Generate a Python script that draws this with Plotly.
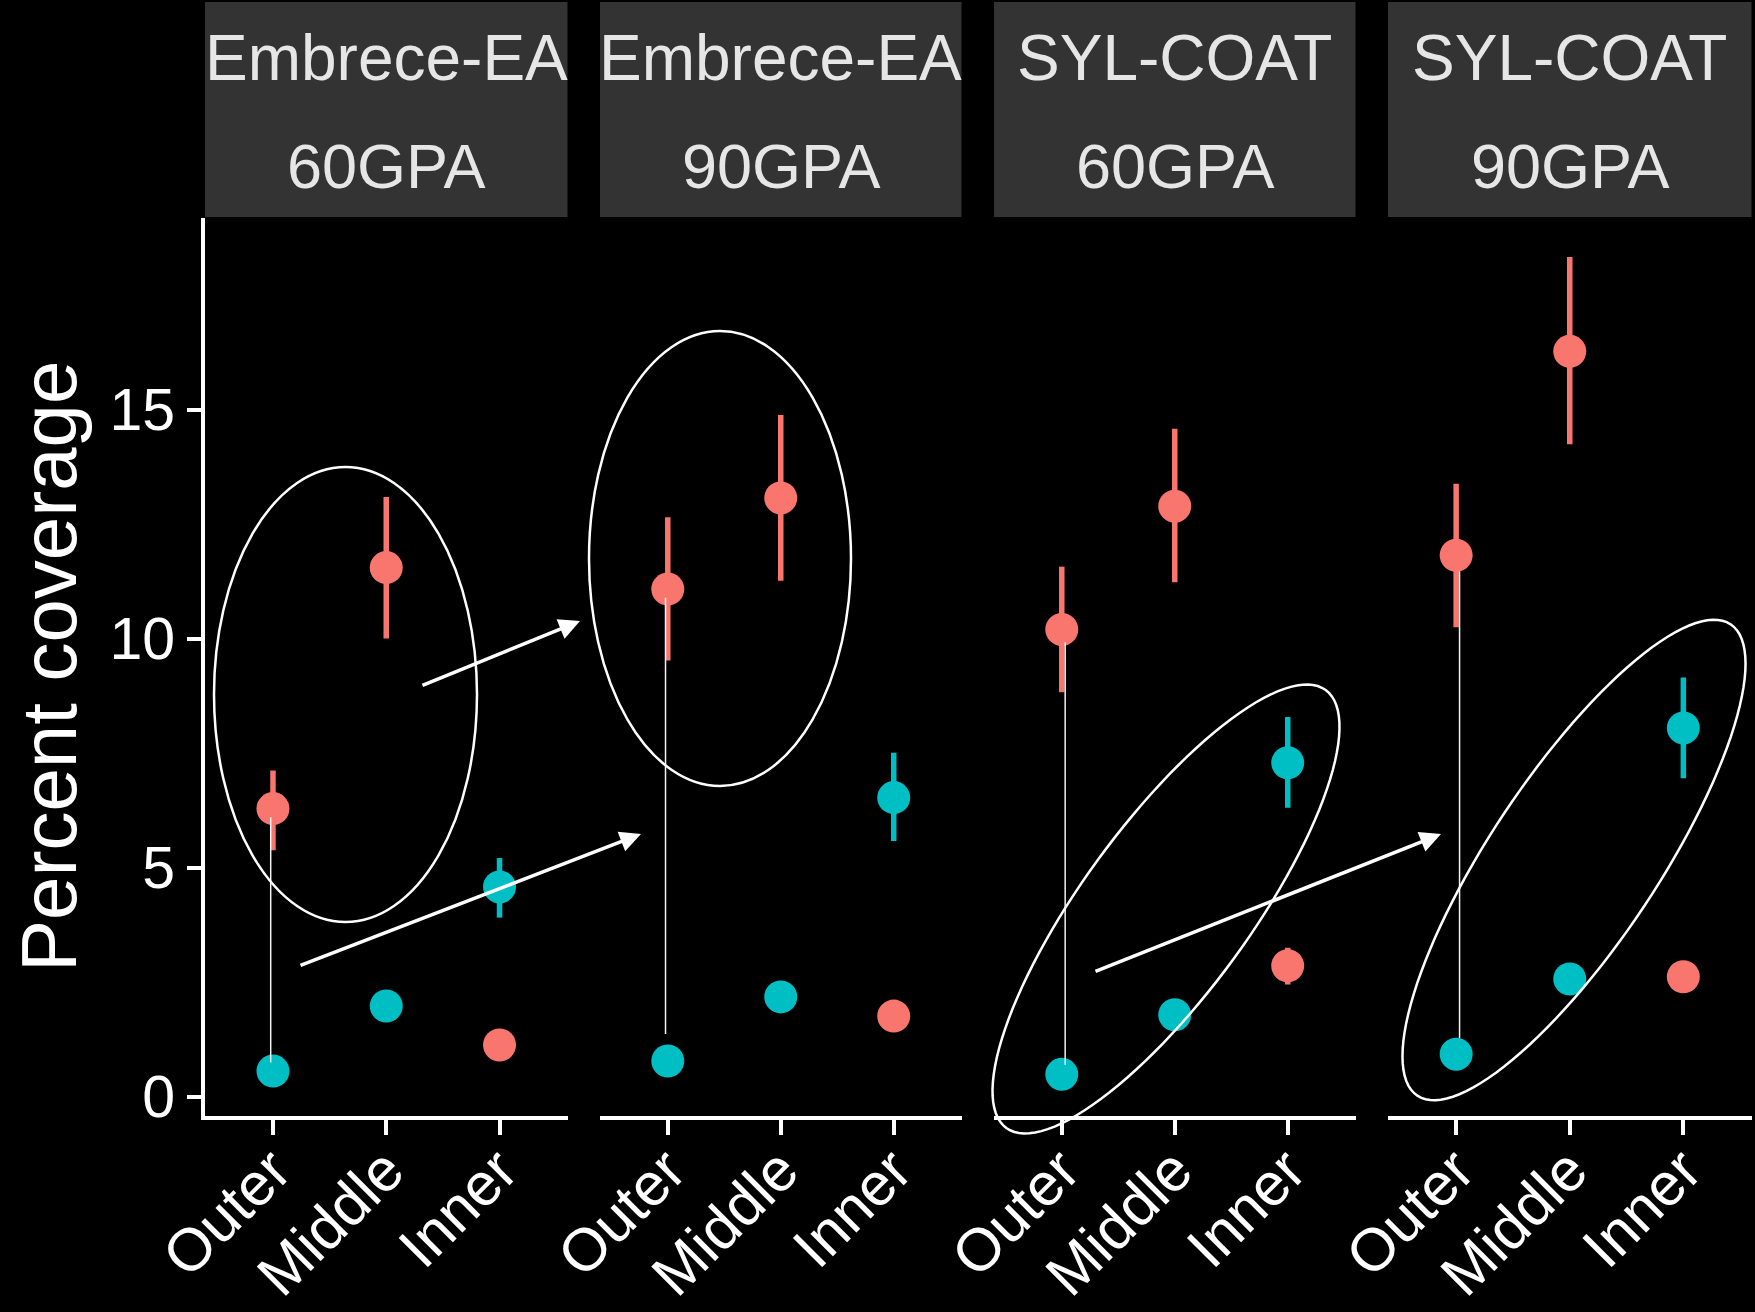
import math
import plotly.graph_objects as go

# ---------------- data ----------------
positions = ["Outer", "Middle", "Inner"]
strip_top = ["Embrece-EA", "Embrece-EA", "SYL-COAT", "SYL-COAT"]
strip_bottom = ["60GPA", "90GPA", "60GPA", "90GPA"]

red_mean = [[6.29, 11.55, 1.13], [11.08, 13.07, 1.76], [10.20, 12.89, 2.86], [11.82, 16.27, 2.62]]
red_lo = [[5.38, 10.00, 0.95], [9.52, 11.26, 1.60], [8.83, 11.23, 2.45], [10.25, 14.24, 2.45]]
red_hi = [[7.12, 13.09, 1.30], [12.65, 14.88, 1.90], [11.57, 14.58, 3.25], [13.38, 18.33, 2.80]]

cyan_mean = [[0.56, 1.98, 4.58], [0.78, 2.18, 6.53], [0.49, 1.79, 7.29], [0.93, 2.57, 8.05]]
cyan_lo = [[0.45, 1.85, 3.91], [0.65, 2.05, 5.58], [0.38, 1.65, 6.31], [0.80, 2.45, 6.95]]
cyan_hi = [[0.70, 2.10, 5.21], [0.90, 2.30, 7.51], [0.60, 1.95, 8.29], [1.05, 2.70, 9.15]]

# thin connector lines (Outer position), y from/to
connector_lo = [0.75, 1.37, 0.70, 1.28]
connector_hi = [6.10, 10.89, 9.92, 11.47]
connector_dx = [-0.02, -0.02, 0.03, 0.03]

y_ticks = [0, 5, 10, 15]
y_title = "Percent coverage"

# ---------------- style / layout ----------------
W, H = 1755, 1312
RED, CYAN = "#F8766D", "#00BFC4"
FONT = "Liberation Sans, Arial, sans-serif"
panel_px = [(205, 567.5), (600, 961.5), (994, 1355.5), (1388, 1751.5)]
plot_top_px, plot_bottom_px = 218, 1116
strip_top_px, strip_bottom_px = 2, 217


def px_x(x):
    return x / W


def px_y(y):
    return 1 - y / H


fig = go.Figure()

for i in range(4):
    suffix = "" if i == 0 else str(i + 1)
    for mean, lo, hi, color in [(cyan_mean[i], cyan_lo[i], cyan_hi[i], CYAN),
                                (red_mean[i], red_lo[i], red_hi[i], RED)]:
        fig.add_trace(go.Scatter(
            x=positions, y=mean, mode="markers",
            marker=dict(size=33, color=color, line=dict(width=0)),
            error_y=dict(type="data", symmetric=False,
                         array=[h - m for h, m in zip(hi, mean)],
                         arrayminus=[m - l for m, l in zip(mean, lo)],
                         width=0, thickness=5.5, color=color),
            xaxis="x" + suffix, yaxis="y" + suffix,
            showlegend=False, hoverinfo="skip"))

    fig.update_layout(**{
        "xaxis" + suffix: dict(
            domain=[px_x(panel_px[i][0]), px_x(panel_px[i][1])],
            anchor="y" + suffix, type="category",
            categoryorder="array", categoryarray=positions,
            range=[-0.6, 2.6], showline=True, linecolor="white", linewidth=4,
            ticks="outside", ticklen=15, tickwidth=4, tickcolor="white",
            tickangle=-45, ticklabelstandoff=-24,
            tickfont=dict(size=60, color="white", family=FONT),
            showgrid=False, zeroline=False, fixedrange=True, automargin=False),
        "yaxis" + suffix: dict(
            domain=[px_y(plot_bottom_px), px_y(plot_top_px)],
            anchor="x" + suffix, range=[-0.42, 19.18],
            tickvals=y_ticks, showticklabels=(i == 0),
            showline=(i == 0), linecolor="white", linewidth=4,
            ticks="outside" if i == 0 else "", ticklen=14, tickwidth=4,
            tickcolor="white", ticklabelstandoff=0,
            tickfont=dict(size=59, color="white", family=FONT),
            showgrid=False, zeroline=False, fixedrange=True, automargin=False),
    })

    # strip background
    fig.add_shape(type="rect", xref="paper", yref="paper",
                  x0=px_x(panel_px[i][0]), x1=px_x(panel_px[i][1]),
                  y0=px_y(strip_bottom_px), y1=px_y(strip_top_px),
                  fillcolor="#333333", line=dict(width=0), layer="below")
    cx = px_x((panel_px[i][0] + panel_px[i][1]) / 2)
    fig.add_annotation(x=cx, y=px_y(58), xref="paper", yref="paper",
                       text=strip_top[i], showarrow=False, xanchor="center", yanchor="middle",
                       font=dict(size=64, color="#E6E6E6", family=FONT))
    fig.add_annotation(x=cx, y=px_y(166), xref="paper", yref="paper",
                       text=strip_bottom[i], showarrow=False, xanchor="center", yanchor="middle",
                       font=dict(size=63, color="#E6E6E6", family=FONT))

    # thin connector line
    fig.add_shape(type="line", xref="x" + suffix, yref="y" + suffix,
                  x0=connector_dx[i], x1=connector_dx[i],
                  y0=connector_lo[i], y1=connector_hi[i],
                  line=dict(color="#F2F2F2", width=1.5), layer="above")

# y axis title
fig.add_annotation(x=px_x(49), y=px_y(667), xref="paper", yref="paper",
                   text=y_title, textangle=-90, showarrow=False,
                   xanchor="center", yanchor="middle",
                   font=dict(size=78, color="white", family=FONT))

# ---------------- hand-drawn annotations ----------------
def ellipse_path(cx, cy, a, b, theta_deg, n=120):
    t = math.radians(theta_deg)
    pts = []
    for k in range(n):
        p = 2 * math.pi * k / n
        ex, ey = a * math.cos(p), b * math.sin(p)
        x = cx + ex * math.cos(t) - ey * math.sin(t)
        y = cy - (ex * math.sin(t) + ey * math.cos(t))
        pts.append(f"{px_x(x):.5f},{px_y(y):.5f}")
    return "M " + " L ".join(pts) + " Z"


ell_line = dict(color="white", width=2.5)
fig.add_shape(type="circle", xref="paper", yref="paper",
              x0=px_x(214), x1=px_x(477), y0=px_y(922), y1=px_y(467), line=ell_line)
fig.add_shape(type="circle", xref="paper", yref="paper",
              x0=px_x(589), x1=px_x(851), y0=px_y(786), y1=px_y(331), line=ell_line)
fig.add_shape(type="path", xref="paper", yref="paper",
              path=ellipse_path(1166, 909, 271, 84, 53.9), line=ell_line)
fig.add_shape(type="path", xref="paper", yref="paper",
              path=ellipse_path(1574, 860, 283, 84, 56.4), line=ell_line)

arrows = [((580, 621), (421, 686)), ((641, 834), (299, 966)), ((1441, 834), (1094, 972))]
for (hx, hy), (tx, ty) in arrows:
    fig.add_annotation(x=px_x(hx), y=px_y(hy), xref="paper", yref="paper",
                       ax=tx - hx, ay=ty - hy, axref="pixel", ayref="pixel",
                       text="", showarrow=True, arrowhead=2, arrowsize=1.2,
                       arrowwidth=3.5, arrowcolor="white")

fig.update_layout(width=W, height=H, margin=dict(l=0, r=0, t=0, b=0, autoexpand=False),
                  paper_bgcolor="black", plot_bgcolor="black",
                  font=dict(family=FONT, color="white"), showlegend=False)

fig.write_html("out.html",
               config={"displayModeBar": False},
               post_script="document.body.style.margin='0';document.body.style.background='black';")
